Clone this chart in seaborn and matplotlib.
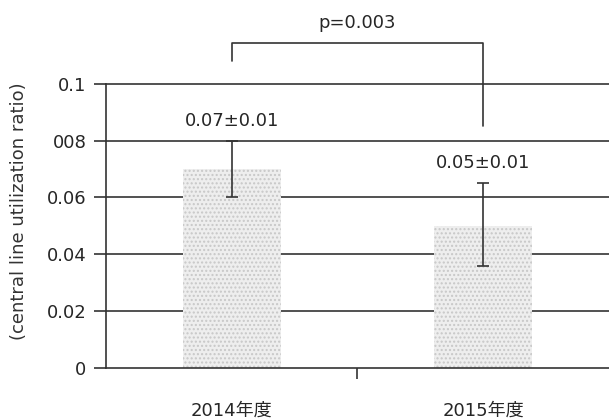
import matplotlib
matplotlib.use('Agg')
import matplotlib.pyplot as plt
import matplotlib.ticker as mticker
import seaborn as sns
import pandas as pd

# values
years = ['2014年度', '2015年度']
ratio = [0.07, 0.05]
err_low = [0.01, 0.014]
err_high = [0.01, 0.015]
value_labels = ['0.07±0.01', '0.05±0.01']
ytick_vals = [0, 0.02, 0.04, 0.06, 0.08, 0.1]
ytick_labels = ['0', '0.02', '0.04', '0.06', '008', '0.1']
p_text = 'p=0.003'

sns.set_style('white')
plt.rcParams['font.family'] = ['DejaVu Sans', 'Noto Sans CJK JP']
plt.rcParams['font.size'] = 13
plt.rcParams['hatch.linewidth'] = 1.0

line_col = '#333333'
txt_col = '#262626'

fig = plt.figure(figsize=(6.09, 4.19), dpi=100)
ax = fig.add_axes([0.174, 0.122, 0.826, 0.678])

df = pd.DataFrame({'year': years, 'ratio': ratio})

ax.set_axisbelow(True)
for v in ytick_vals[1:-1]:
    ax.axhline(v, color=line_col, lw=1.2, zorder=0)

sns.barplot(data=df, x='year', y='ratio', color='#eeeeee', width=0.39,
            errorbar=None, ax=ax, zorder=2)
for patch in ax.patches:
    patch.set_facecolor('#eeeeee')
    patch.set_edgecolor('#c8c8c8')
    patch.set_linewidth(0)
    patch.set_hatch('....')

ax.errorbar([0, 1], ratio, yerr=[err_low, err_high], fmt='none',
            ecolor=line_col, elinewidth=1.2, capsize=4, capthick=1.2, zorder=3)

for i, (lab, top) in enumerate(zip(value_labels, err_high)):
    ax.text(i, ratio[i] + top + 0.007, lab, ha='center', va='center',
            fontsize=13, color=txt_col)

# significance bracket
br_top = 0.1144
ax.plot([0, 0, 1, 1], [0.108, br_top, br_top, 0.085], color=line_col, lw=1.2,
        clip_on=False, zorder=4)
ax.text(0.5, 0.1215, p_text, ha='center', va='center', fontsize=13, color=txt_col)

ax.set_xlim(-0.5, 1.5)
ax.set_ylim(0, 0.1)
ax.set_yticks(ytick_vals)
ax.set_yticklabels(ytick_labels)
ax.tick_params(axis='y', direction='out', length=9, width=1.2, color=line_col,
               pad=5, left=True, labelsize=13, labelcolor=txt_col)
ax.tick_params(axis='x', which='major', length=0, pad=24, labelsize=13,
               labelcolor=txt_col)
ax.xaxis.set_minor_locator(mticker.FixedLocator([0.5]))
ax.tick_params(axis='x', which='minor', direction='out', length=8, width=1.2,
               color=line_col, bottom=True)

for side in ['left', 'bottom', 'top']:
    ax.spines[side].set_color(line_col)
    ax.spines[side].set_linewidth(1.2)
ax.spines['right'].set_visible(False)

ax.set_xlabel('')
ax.set_ylabel('(central line utilization ratio)', fontsize=13, color='#333333')
ax.yaxis.set_label_coords(-0.155, 0.55)

fig.savefig('out.png', dpi=100)
